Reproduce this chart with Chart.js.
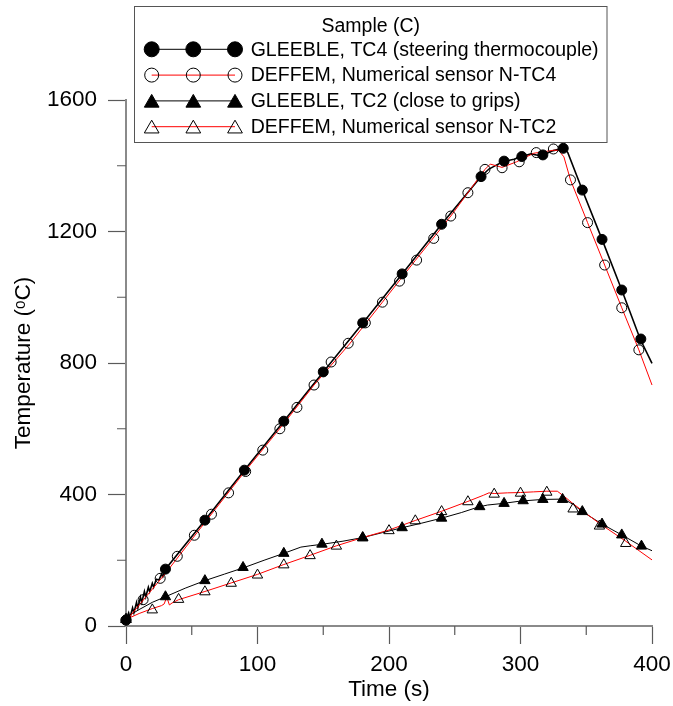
<!DOCTYPE html>
<html><head><meta charset="utf-8">
<script src="https://cdn.jsdelivr.net/npm/chart.js@4.4.1/dist/chart.umd.min.js"></script>
<style>html,body{margin:0;padding:0;background:#fff}canvas{display:block}</style>
</head><body>
<canvas id="c" width="673" height="706"></canvas>
<script>
const FONT = '"Liberation Sans", Arial, Helvetica, sans-serif';

// ---- Data ----
const legendTitle = 'Sample (C)';
const legendLabels = [
  'GLEEBLE, TC4 (steering thermocouple)',
  'DEFFEM, Numerical sensor N-TC4',
  'GLEEBLE, TC2 (close to grips)',
  'DEFFEM, Numerical sensor N-TC2'
];

// GLEEBLE TC4 line
const tc4LineTime = [0,2,3,5,6,8,9,11,12,14,15,17,18,20,21,23,25,27,28,30,60,90,120,150,180,210,240,270,276,283,288,295,301,308,313,318,325,333,336,347,362,377,391,400];
const tc4LineTemp = [18,40,25,55,40,72,55,88,72,105,88,118,104,130,118,142,140,158,150,173,322,474,623,773,921,1071,1222,1367,1390,1405,1414,1420,1428,1436,1432,1434,1446,1454,1440,1326,1176,1022,873,799];
// GLEEBLE TC4 markers
const tc4MarkTime = [0,30,60,90,120,150,180,210,240,270,287.5,301,317,332.5,347,362,377,391.5];
const tc4MarkTemp = [18,173,322,474,623,773,922,1071,1222,1367,1414,1428,1433,1453,1326,1176,1022,873];

// DEFFEM N-TC4 line
const ntc4LineTime = [0,15,30,60,90,120,143,170,195,220,247,260,273,277,286,297,310,325,329,333,338,351,364,377,390,400];
const ntc4LineTemp = [15,88,160,315,468,616,733,858,985,1112,1247,1318,1389,1405,1395,1412,1438,1447,1447,1427,1357,1227,1098,968,840,733];
// DEFFEM N-TC4 markers
const ntc4MarkTime = [0,13,26,39,52,65,78,91,104,117,130,143,156,169,182,195,208,221,234,247,260,273,286,299,312,325,338,351,364,377,390];
const ntc4MarkTemp = [18,80,145,212,276,340,405,470,535,600,665,733,803,860,922,985,1049,1113,1179,1247,1318,1389,1394,1412,1440,1451,1357,1227,1098,968,840];

// GLEEBLE TC2 line
const tc2LineTime = [0,5,10,20,30,45,60,75,90,105,120,133,140,150,165,180,195,210,225,240,255,268,275,287,300,317,333,340,347,362,377,392,400];
const tc2LineTemp = [20,38,50,72,89,115,138,158,178,200,221,240,244,249,258,269,284,299,313,328,345,362,368,373,380,385,386,370,348,310,277,243,229];
// GLEEBLE TC2 markers
const tc2MarkTime = [0,30,60,89,120,149,180,210,240,269,287.5,302,317,332,347,362,377,392];
const tc2MarkTemp = [20,89,138,178,221,249,269,299,328,363,373,381,385,385,348,310,277,243];

// DEFFEM N-TC2 line
const ntc2LineTime = [0,10,20,27,29,31,33,35,40,60,80,100,120,140,160,180,200,220,240,260,272,276,280,290,300,310,320,328,333,340,360,380,400];
const ntc2LineTemp = [20,38,53,62,67,88,64,70,80,105,131,157,187,215,244,269,292,321,349,379,398,405,403,405,406,408,410,410,395,372,312,258,201];
// DEFFEM N-TC2 markers
const ntc2MarkTime = [0,20,40,60,80,100,120,140,160,180,200,220,240,260,280,300,320,340,360,380];
const ntc2MarkTemp = [20,49,81,104,130,155,186,214,243,268,290,320,348,378,401,404,407,356,304,251];

// Axis ticks
const xMin = 0, xMax = 400, xStep = 100;
const yMin = 0, yMax = 1600, yStep = 400;
const xMinorTicks = [50,150,250,350];
const yMinorTicks = [200,600,1000,1400];

const xy = (ts, vs) => ts.map((t, i) => ({x: t, y: vs[i]}));

const lineDs = (ts, vs, color, w, order) => ({
  data: xy(ts, vs), showLine: true, borderColor: color, borderWidth: w,
  pointRadius: 0, pointHoverRadius: 0, fill: false, tension: 0, order, clip: false
});
const markDs = (ts, vs, style, r, filled, order) => ({
  data: xy(ts, vs), showLine: false, pointStyle: style, pointRadius: r, pointHoverRadius: r,
  pointBackgroundColor: filled ? '#000' : 'rgba(0,0,0,0)', pointBorderColor: '#000',
  pointBorderWidth: 1, order, clip: false
});

const AXIS_COLOR = '#8a8a8a', TICK_COLOR = '#5a5a5a';

const minorTicks = {
  id: 'minorTicks',
  afterDraw(chart) {
    const {ctx, scales: {x, y}, chartArea} = chart;
    ctx.save();
    ctx.strokeStyle = TICK_COLOR; ctx.lineWidth = 1.2;
    ctx.beginPath();
    xMinorTicks.forEach(v => { const px = x.getPixelForValue(v); ctx.moveTo(px, chartArea.bottom); ctx.lineTo(px, chartArea.bottom + 9); });
    yMinorTicks.forEach(v => { const py = y.getPixelForValue(v); ctx.moveTo(chartArea.left, py); ctx.lineTo(chartArea.left - 9, py); });
    ctx.stroke();
    ctx.restore();
  }
};

function drawMarker(ctx, style, filled, cx, cy, r) {
  ctx.beginPath();
  if (style === 'circle') {
    ctx.arc(cx, cy, r, 0, Math.PI * 2);
  } else {
    for (let k = 0; k < 3; k++) {
      const a = k * 2 * Math.PI / 3;
      const px = cx + Math.sin(a) * r, py = cy - Math.cos(a) * r;
      if (k === 0) ctx.moveTo(px, py); else ctx.lineTo(px, py);
    }
    ctx.closePath();
  }
  ctx.fillStyle = '#000';
  if (filled) ctx.fill();
  ctx.strokeStyle = '#000'; ctx.lineWidth = 1; ctx.stroke();
}

const legendStyles = [
  {style: 'circle', filled: true, line: '#000'},
  {style: 'circle', filled: false, line: '#ff0000'},
  {style: 'triangle', filled: true, line: '#000'},
  {style: 'triangle', filled: false, line: '#ff0000'}
];

const customLegend = {
  id: 'customLegend',
  afterDraw(chart) {
    const ctx = chart.ctx;
    ctx.save();
    const bx = 134.5, by = 6.5, bw = 472.5, bh = 136;
    ctx.fillStyle = '#fff'; ctx.fillRect(bx, by, bw, bh);
    ctx.strokeStyle = '#555'; ctx.lineWidth = 1; ctx.strokeRect(bx, by, bw, bh);
    ctx.fillStyle = '#000'; ctx.font = '19.5px ' + FONT;
    ctx.textAlign = 'center'; ctx.textBaseline = 'middle';
    ctx.fillText(legendTitle, bx + bw / 2, 27);
    const mx = [151.7, 193.3, 235];
    legendLabels.forEach((lab, i) => {
      const ry = 49.3 + i * 25.8;
      const st = legendStyles[i];
      const my = st.style === 'triangle' ? ry + 2 : ry;
      ctx.strokeStyle = st.line; ctx.lineWidth = 1;
      ctx.beginPath(); ctx.moveTo(mx[0], ry); ctx.lineTo(mx[2], ry); ctx.stroke();
      mx.forEach(x => {
        if (st.style === 'circle') drawMarker(ctx, 'circle', st.filled, x, my, st.filled ? 7.5 : 7);
        else drawMarker(ctx, 'triangle', st.filled, x, my, 8.5);
      });
      ctx.fillStyle = '#000'; ctx.textAlign = 'left'; ctx.textBaseline = 'middle';
      ctx.font = '19.5px ' + FONT;
      ctx.fillText(lab, 250.7, ry + 1);
    });
    ctx.restore();
  }
};

new Chart(document.getElementById('c'), {
  type: 'scatter',
  data: {
    datasets: [
      lineDs(tc4LineTime, tc4LineTemp, '#000', 1.6, 6),
      lineDs(ntc4LineTime, ntc4LineTemp, '#ff0000', 1, 5),
      lineDs(tc2LineTime, tc2LineTemp, '#000', 1, 6),
      lineDs(ntc2LineTime, ntc2LineTemp, '#ff0000', 1, 5),
      markDs(tc4MarkTime, tc4MarkTemp, 'circle', 5, true, 2),
      markDs(ntc4MarkTime, ntc4MarkTemp, 'circle', 5, false, 1),
      markDs(tc2MarkTime, tc2MarkTemp, 'triangle', 6, true, 2),
      markDs(ntc2MarkTime, ntc2MarkTemp, 'triangle', 6, false, 1)
    ]
  },
  options: {
    responsive: false, animation: false, devicePixelRatio: 1,
    layout: {padding: {top: 100, right: 21, bottom: 0, left: 0}},
    plugins: {legend: {display: false}, tooltip: {enabled: false}},
    scales: {
      x: {
        type: 'linear', min: xMin, max: xMax,
        ticks: {stepSize: xStep, color: '#000', font: {family: FONT, size: 22.5}, padding: 7, maxRotation: 0,
                callback: v => String(v)},
        grid: {drawOnChartArea: false, drawTicks: true, tickLength: 18, tickColor: TICK_COLOR, tickWidth: 1.2},
        border: {color: AXIS_COLOR, width: 2},
        title: {display: true, text: 'Time (s)', color: '#000', font: {family: FONT, size: 22.5}, padding: {top: 0, bottom: 2.5}},
        afterFit(s) { s.height = 80; s.paddingLeft = 0; s.paddingRight = 0; }
      },
      y: {
        type: 'linear', min: yMin, max: yMax,
        ticks: {stepSize: yStep, color: '#000', font: {family: FONT, size: 22.5}, padding: 11,
                callback: v => String(v)},
        grid: {drawOnChartArea: false, drawTicks: true, tickLength: 18, tickColor: TICK_COLOR, tickWidth: 1.2},
        border: {color: AXIS_COLOR, width: 2},
        title: {display: true, text: 'Temperature (ᵒC)', color: '#000', font: {family: FONT, size: 22.5}, padding: {top: 10, bottom: 0}},
        afterFit(s) { s.width = 126; s.paddingTop = 0; s.paddingBottom = 0; }
      }
    }
  },
  plugins: [minorTicks, customLegend]
});
</script>
</body></html>
